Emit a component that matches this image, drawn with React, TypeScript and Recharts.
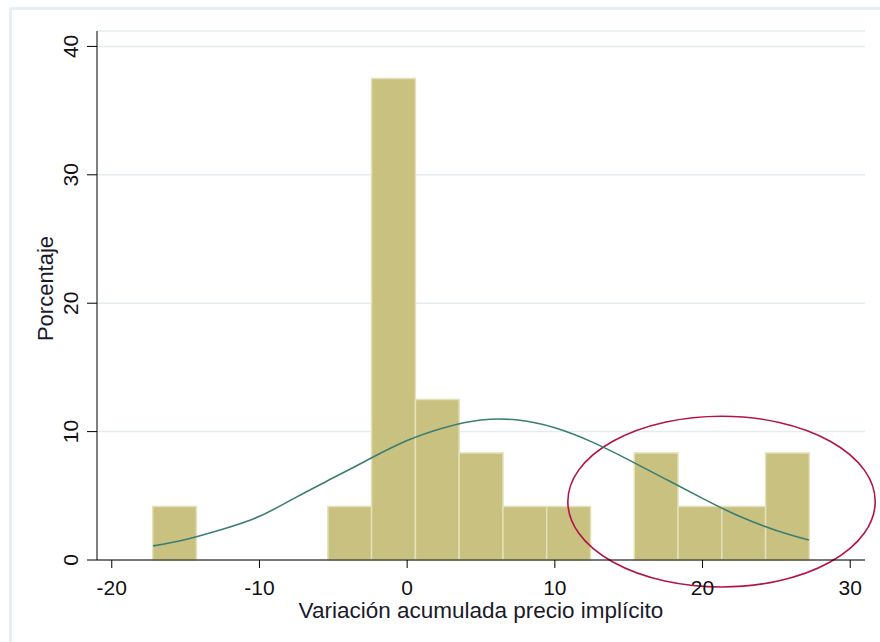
import {
  CartesianGrid,
  ComposedChart,
  Label,
  Line,
  ReferenceArea,
  XAxis,
  YAxis,
} from "recharts";

// histogram bins (edges) and percent per bin
const binLo = [-17.23, -5.37, -2.41, 0.56, 3.52, 6.49, 9.45, 15.38, 18.34, 21.31, 24.27];
const binHi = [-14.27, -2.41, 0.56, 3.52, 6.49, 9.45, 12.42, 18.34, 21.31, 24.27, 27.23];
const binPct = [4.17, 4.17, 37.5, 12.5, 8.33, 4.17, 4.17, 8.33, 4.17, 4.17, 8.33];

// normal density overlay
const curveX = [-17.2, -15, -12.5, -10, -7.5, -5, -2.5, 0, 2.5, 5, 7.5, 10, 12.5, 15, 17.5, 20, 22.5, 25, 27.2];
const curveY = [1.1, 1.6, 2.4, 3.4, 4.9, 6.4, 7.9, 9.3, 10.3, 10.9, 10.9, 10.3, 9.2, 7.8, 6.3, 4.8, 3.4, 2.3, 1.55];

const xTicks = [-20, -10, 0, 10, 20, 30];
const yTicks = [0, 10, 20, 30, 40];

// red ellipse annotation (data coords of its bounding box)
const ellipseX = [10.88, 31.69];
const ellipseY = [-2.1, 11.2];

const curveData = curveX.map((x, i) => ({ x, y: curveY[i] }));

const FONT = "'Liberation Sans', Arial, sans-serif";

const YTick = (props: any) => {
  const { x, y, payload } = props;
  return (
    <text
      x={x}
      y={y}
      transform={`rotate(-90, ${x}, ${y})`}
      textAnchor="middle"
      fontSize={21}
      fontFamily={FONT}
      fill="#111"
    >
      {payload.value}
    </text>
  );
};

const Ellipse = (props: any) => {
  const { x, y, width, height } = props;
  return (
    <ellipse
      cx={x + width / 2}
      cy={y + height / 2}
      rx={width / 2}
      ry={height / 2}
      fill="none"
      stroke="#b3134b"
      strokeWidth={1.6}
    />
  );
};

export default function App() {
  return (
    <div style={{ position: "absolute", left: 0, top: 0, width: 880, height: 642, background: "#fff" }}>
      <div
        style={{
          position: "absolute",
          left: 9,
          top: 7,
          right: 0,
          bottom: 0,
          borderLeft: "3px solid #e8eff2",
          borderTop: "3px solid #e8eff2",
        }}
      />
      <ComposedChart
        width={880}
        height={642}
        margin={{ top: 31, right: 15, bottom: 22, left: 37 }}
        style={{ position: "absolute", left: 0, top: 0 }}
      >
        <CartesianGrid vertical={false} stroke="#e4ecef" strokeWidth={1.5} />
        <XAxis
          dataKey="x"
          type="number"
          domain={[-21, 31]}
          ticks={xTicks}
          allowDataOverflow
          height={60}
          tickSize={8}
          tickMargin={12}
          stroke="#000"
          tick={{ fontSize: 21, fontFamily: FONT, fill: "#111" }}
        >
          <Label
            value="Variación acumulada precio implícito"
            position="insideBottom"
            offset={2}
            style={{ fontSize: 22.5, fontFamily: FONT, fill: "#1a1a2a" }}
          />
        </XAxis>
        <YAxis
          type="number"
          domain={[0, 41.2]}
          ticks={yTicks}
          allowDataOverflow
          width={60}
          tickSize={10}
          tickMargin={9}
          stroke="#000"
          tick={<YTick />}
        >
          <Label
            content={(p: any) => {
              const vb = p.viewBox;
              const cx = vb.x + 16;
              const cy = vb.y + vb.height / 2 - 7;
              return (
                <text
                  x={cx}
                  y={cy}
                  transform={`rotate(-90, ${cx}, ${cy})`}
                  textAnchor="middle"
                  fontSize={22}
                  fontFamily={FONT}
                  fill="#1a1a2a"
                >
                  Porcentaje
                </text>
              );
            }}
          />
        </YAxis>
        {binLo.map((lo, i) => (
          <ReferenceArea
            key={i}
            x1={lo}
            x2={binHi[i]}
            y1={0}
            y2={binPct[i]}
            fill="#c8c180"
            fillOpacity={1}
            stroke="#e4e0b8"
            strokeWidth={1.5}
          />
        ))}
        <Line
          data={curveData}
          dataKey="y"
          type="natural"
          stroke="#3b7d73"
          strokeWidth={1.6}
          dot={false}
          isAnimationActive={false}
        />
        <ReferenceArea
          x1={ellipseX[0]}
          x2={ellipseX[1]}
          y1={ellipseY[0]}
          y2={ellipseY[1]}
          ifOverflow="visible"
          shape={<Ellipse />}
        />
      </ComposedChart>
    </div>
  );
}
